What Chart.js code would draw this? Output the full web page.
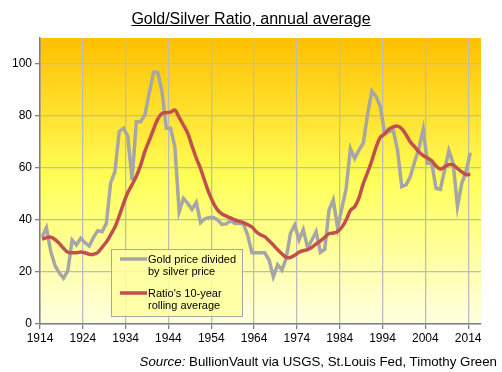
<!DOCTYPE html>
<html>
<head>
<meta charset="utf-8">
<script src="https://cdn.jsdelivr.net/npm/chart.js@4.4.1/dist/chart.umd.min.js"></script>
<style>
  body { margin: 0; background: #fff; }
  #wrap { position: relative; width: 502px; height: 372px; font-family: "Liberation Sans", Arial, sans-serif; color: #000; }
  #ratioChart { position: absolute; left: 0; top: 0; }
  #title { position: absolute; left: 0; top: 10px; width: 502px; text-align: center; font-size: 16px; text-decoration: underline; }
  #source { position: absolute; right: 5px; top: 354px; font-size: 13.3px; white-space: nowrap; }
</style>
</head>
<body>
<div id="wrap">
  <canvas id="ratioChart" width="502" height="372"></canvas>
  <div id="title">Gold/Silver Ratio, annual average</div>
  <div id="source"><i>Source:</i> BullionVault via USGS, St.Louis Fed, Timothy Green</div>
</div>
<script>
const fontFamily = '"Liberation Sans", Arial, sans-serif';
const grayColor = "#a6a6a6";
const redColor = "#c0504d";

// one value per year, 1914 .. 2014
const firstYear = 1914;
const goldSilverRatio = [
  33.5, 37, 28, 22.5, 19.7, 17.6, 20.5, 32.3, 30.4, 33,
  31.3, 30, 33.3, 35.9, 35.5, 38.7, 54.3, 58.6, 74, 75.3,
  72.3, 55.4, 77.8, 77.8, 80.4, 88.7, 96.8, 96.8, 89.4, 75.3,
  75.3, 68.2, 43.2, 48.3, 46.4, 44.1, 46.8, 39, 40.5, 41,
  41, 40, 38.3, 38.5, 39.7, 38.7, 38.7, 38.5, 34.2, 27.4,
  27.4, 27.4, 27.4, 24.6, 18.2, 22.8, 20.7, 25.3, 34.9, 38.1,
  32.3, 36.3, 29.4, 32.3, 35.5, 27.6, 28.7, 43.8, 47.7, 37,
  44.5, 52, 67.5, 63.7, 66.9, 69.5, 80.4, 89.6, 87.4, 83.6,
  73.3, 74, 74.6, 66.9, 52.8, 53.5, 56.7, 62.4, 67.5, 74.9,
  61.8, 61.8, 52.2, 51.8, 59.2, 66.7, 61.8, 45.1, 54.1, 58.6,
  65.9
];
const tenYearAverage = [
  32.6, 33.2, 33.4, 32.5, 31, 29.1, 27.6, 27.4, 27.4, 27.7,
  27.4, 26.8, 26.8, 27.5, 29.5, 31.5, 34.3, 37.3, 41.5, 46.3,
  50.6, 53.6, 56.8, 61, 66.4, 70.5, 74.8, 78.8, 81, 81.3,
  81.5, 82.3, 79.5, 76.5, 73.4, 68.5, 63.8, 59.8, 54.9, 50.2,
  46.5, 43.8, 42.3, 41.5, 40.8, 40, 39.5, 39, 38.2, 37.3,
  35.5, 34.3, 33.6, 32, 30.4, 28.6, 27, 25.6, 25.6, 26.4,
  27.6, 28.2, 28.6, 29.5, 30.8, 32, 33.3, 34.8, 35, 35.6,
  37.2, 40, 43.7, 45.1, 48.5, 54, 58.2, 62.8, 68, 71.8,
  73.1, 75, 75.8, 76.1, 75.1, 72.8, 70, 68.2, 66.2, 64.8,
  63.8, 62.8, 60.8, 59.6, 60.4, 61.3, 61.2, 59.8, 58.5, 57.4,
  57.6
];
const xTickYears = [1914, 1924, 1934, 1944, 1954, 1964, 1974, 1984, 1994, 2004, 2014];
const yTickValues = [0, 20, 40, 60, 80, 100];
const legendLabels = [["Gold price divided", "by silver price"], ["Ratio's 10-year", "rolling average"]];

// annual averages sit in the middle of their year
const toPoints = (values) => values.map((v, i) => ({ x: firstYear + i + 0.5, y: v }));

const plotBackground = {
    id: 'plotBackground',
    beforeDraw(chart) {
        const { ctx, chartArea: { left, top, right, bottom } } = chart;
        const g = ctx.createLinearGradient(0, top, 0, bottom);
        g.addColorStop(0, "#ffc000");
        g.addColorStop(0.5, "#ffff5a");
        g.addColorStop(1, "#ffffe2");
        ctx.save();
        ctx.fillStyle = g;
        ctx.fillRect(left, top, right - left, bottom - top);
        ctx.restore();
    }
};

const boxLegend = {
    id: 'boxLegend',
    afterDraw(chart) {
        const { ctx, chartArea } = chart;
        const x = chartArea.left + 71, y = chartArea.top + 211, w = 131, h = 67;
        ctx.save();
        ctx.fillStyle = "rgba(255, 255, 160, 0.85)";
        ctx.fillRect(x, y, w, h);
        ctx.strokeStyle = "#a6a6a6";
        ctx.lineWidth = 1;
        ctx.strokeRect(x + 0.5, y + 0.5, w, h);
        ctx.font = "11px " + fontFamily;
        ctx.textBaseline = "middle";
        ctx.fillStyle = "#000";
        chart.data.datasets.forEach((ds, i) => {
            const rowY = y + 10 + i * 34;
            ctx.beginPath();
            ctx.strokeStyle = ds.borderColor;
            ctx.lineWidth = 3.5;
            ctx.moveTo(x + 9, rowY);
            ctx.lineTo(x + 36, rowY);
            ctx.stroke();
            ctx.fillText(legendLabels[i][0], x + 37, rowY + 1);
            ctx.fillText(legendLabels[i][1], x + 37, rowY + 13);
        });
        ctx.restore();
    }
};

new Chart("ratioChart", {
    type: "line",
    data: {
        datasets: [{
            data: toPoints(goldSilverRatio),
            borderColor: grayColor,
            borderWidth: 3.5,
            pointRadius: 0,
            tension: 0,
            order: 1,
        }, {
            data: toPoints(tenYearAverage),
            borderColor: redColor,
            borderWidth: 3.5,
            pointRadius: 0,
            tension: 0.3,
            order: 0,
        }],
    },
    options: {
        responsive: false,
        animation: false,
        layout: { padding: { top: 38, right: 21, left: 0, bottom: 0 } },
        plugins: {
            legend: { display: false },
            tooltip: { enabled: false },
        },
        scales: {
            x: {
                type: 'linear',
                min: 1914,
                max: 2017,
                afterBuildTicks: (axis) => { axis.ticks = xTickYears.map(v => ({ value: v })); },
                afterFit: (scale) => { scale.height = 48; },
                ticks: {
                    callback: (v) => String(v),
                    color: "#000",
                    font: { family: fontFamily, size: 12 },
                    maxRotation: 0,
                    autoSkip: false,
                    padding: 2,
                },
                grid: { color: "#bcbcbc", lineWidth: 1.3, tickLength: 5, tickColor: "#808080" },
                border: { color: "#808080", width: 1.5 },
            },
            y: {
                min: 0,
                max: 110,
                afterBuildTicks: (axis) => { axis.ticks = yTickValues.map(v => ({ value: v })); },
                afterFit: (scale) => { scale.width = 40; },
                ticks: {
                    color: "#000",
                    font: { family: fontFamily, size: 12 },
                    padding: 3,
                },
                grid: { color: "#bcbcbc", lineWidth: 1.3, tickLength: 5, tickColor: "#808080" },
                border: { color: "#808080", width: 1.5 },
            },
        },
    },
    plugins: [plotBackground, boxLegend]
});
</script>
</body>
</html>
